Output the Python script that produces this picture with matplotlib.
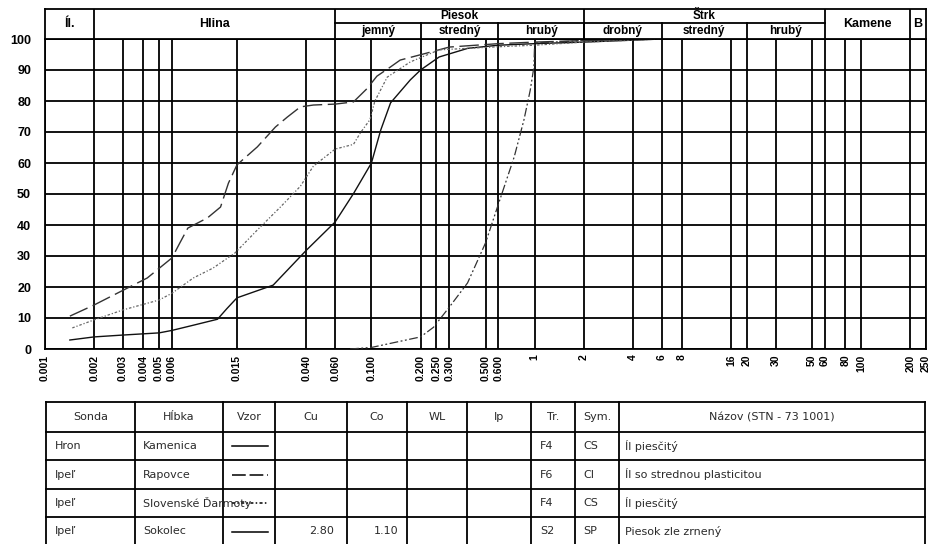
import matplotlib
matplotlib.use("Agg")
import matplotlib.pyplot as plt
from matplotlib.ticker import NullLocator

# ---------------- data ----------------
tick_values = [0.001, 0.002, 0.003, 0.004, 0.005, 0.006, 0.015, 0.040, 0.060, 0.100,
               0.200, 0.250, 0.300, 0.500, 0.600, 1, 2, 4, 6, 8, 16, 20, 30, 50, 60,
               80, 100, 200, 250]
tick_labels = ["0.001", "0.002", "0.003", "0.004", "0.005", "0.006", "0.015", "0.040",
               "0.060", "0.100", "0.200", "0.250", "0.300", "0.500", "0.600", "1", "2",
               "4", "6", "8", "16", "20", "30", "50", "60", "80", "100", "200", "250"]

# grain size (mm) / percent passing
hron_d = [0.00142, 0.002, 0.003, 0.005, 0.006, 0.008, 0.0114, 0.013, 0.015, 0.025,
          0.040, 0.060, 0.078, 0.100, 0.114, 0.131, 0.173, 0.200, 0.260, 0.390, 0.600,
          1.0, 2.0, 6.0]
hron_p = [2.9, 3.9, 4.5, 5.2, 6.0, 7.6, 9.6, 13.0, 16.5, 20.6, 31.9, 41.0, 50.3, 60.0,
          70.6, 79.4, 86.8, 90.0, 94.2, 97.0, 98.0, 98.5, 99.0, 100.0]

rapovce_d = [0.00142, 0.002, 0.0025, 0.00423, 0.006, 0.0067, 0.0075, 0.0099, 0.0119,
             0.0133, 0.015, 0.020, 0.0258, 0.0305, 0.0367, 0.0441, 0.060, 0.0776, 0.094,
             0.108, 0.131, 0.150, 0.220, 0.300, 0.600, 1.0, 2.0, 6.0]
rapovce_p = [10.6, 14.2, 16.8, 22.9, 29.4, 34.2, 39.0, 42.3, 45.8, 53.5, 59.4, 65.2, 71.6,
             74.8, 78.1, 78.7, 79.0, 79.7, 84.0, 88.0, 91.0, 93.2, 95.5, 97.4, 98.5, 99.0,
             99.5, 100.0]

darmoty_d = [0.00147, 0.002, 0.003, 0.005, 0.006, 0.0081, 0.0107, 0.0146, 0.020, 0.0277,
             0.0367, 0.0441, 0.060, 0.0776, 0.0855, 0.098, 0.105, 0.125, 0.173, 0.260,
             0.600, 1.0, 2.0, 6.0]
darmoty_p = [6.8, 9.4, 12.6, 15.8, 18.0, 22.9, 26.1, 31.0, 38.4, 45.8, 52.5, 59.0, 64.5,
             66.0, 69.7, 74.0, 80.0, 87.7, 92.6, 96.5, 97.5, 98.0, 99.0, 100.0]

sokolec_d = [0.074, 0.100, 0.200, 0.240, 0.300, 0.388, 0.500, 0.620, 0.750, 0.860, 0.940,
             0.990, 1.0, 2.0, 6.0]
sokolec_p = [0.0, 0.5, 3.9, 7.0, 13.5, 21.3, 34.2, 49.0, 62.0, 73.9, 83.5, 91.0, 98.7,
             99.5, 100.0]

# header classes
main_classes = ["Íl.", "Hlina", "Piesok", "Štrk", "Kamene", "B"]
main_bounds = [0.001, 0.002, 0.060, 2, 60, 200, 250]
sub_classes = ["jemný", "stredný", "hrubý", "drobný", "stredný", "hrubý"]
sub_bounds = [0.060, 0.200, 0.600, 2, 6, 20, 60]

# table
col_headers = ["Sonda", "Hĺbka", "Vzor", "Cu", "Co", "WL", "Ip", "Tr.", "Sym.",
               "Názov (STN - 73 1001)"]
sonda = ["Hron", "Ipeľ", "Ipeľ", "Ipeľ"]
hlbka = ["Kamenica", "Rapovce", "Slovenské Ďarmoty", "Sokolec"]
cu = ["", "", "", "2.80"]
co = ["", "", "", "1.10"]
trieda = ["F4", "F6", "F4", "S2"]
sym = ["CS", "CI", "CS", "SP"]
nazov = ["Íl piesčitý", "Íl so strednou plasticitou", "Íl piesčitý", "Piesok zle zrnený"]

# ---------------- styles ----------------
series = [(hron_d, hron_p), (rapovce_d, rapovce_p), (darmoty_d, darmoty_p),
          (sokolec_d, sokolec_p)]
line_styles = ["-", (0, (14, 4)), (0, (2, 1.5, 1, 1.5)), (0, (7, 2, 1.5, 2, 1.5, 2))]
line_colors = ["#111111", "#333333", "#666666", "#333333"]
line_widths = [1.0, 1.0, 0.9, 0.9]
vzor_styles = ["-", (0, (9, 2.5)), (0, (2, 1.5, 1, 1.5)), "-"]

W, H = 932, 544
fig = plt.figure(figsize=(W / 100, H / 100), dpi=100)
fig.patch.set_facecolor("white")


def box(x0, y0, x1, y1):
    return [x0 / W, 1 - y1 / H, (x1 - x0) / W, (y1 - y0) / H]


BOLD = dict(family="Liberation Sans", weight="bold")

# ---------------- main plot ----------------
ax = fig.add_axes(box(45, 39, 926, 349))
ax.set_xscale("log")
ax.set_xlim(main_bounds[0], main_bounds[-1])
ax.set_ylim(0, 100)
ax.set_xticks(tick_values)
ax.set_xticklabels(tick_labels, rotation=90, fontsize=7.5, **BOLD)
ax.xaxis.set_minor_locator(NullLocator())
ax.set_yticks(range(0, 101, 10))
ax.set_yticklabels([str(v) for v in range(0, 101, 10)], fontsize=9, **BOLD)
ax.tick_params(length=0, pad=4)
ax.tick_params(axis="y", pad=10)
ax.grid(True, color="black", lw=1.3)
for s in ax.spines.values():
    s.set_linewidth(1.3)

for (d, p), ls, c, lw in zip(series, line_styles, line_colors, line_widths):
    ax.plot(d, p, linestyle=ls, color=c, lw=lw, zorder=3)

# ---------------- header ----------------
hx = fig.add_axes(box(45, 9, 926, 39))
hx.set_xscale("log")
hx.set_xlim(main_bounds[0], main_bounds[-1])
hx.set_ylim(0, 2)
hx.set_xticks([])
hx.set_yticks([])
hx.xaxis.set_minor_locator(NullLocator())
for s in hx.spines.values():
    s.set_linewidth(1.3)
for b in main_bounds[1:-1]:
    hx.axvline(b, color="black", lw=1.3)
hx.plot([sub_bounds[0], sub_bounds[-1]], [1.1, 1.1], color="black", lw=1.3)
for b in sub_bounds[1:-1]:
    hx.plot([b, b], [0, 1.1], color="black", lw=1.3)
for i, name in enumerate(main_classes):
    xm = (main_bounds[i] * main_bounds[i + 1]) ** 0.5
    split = name in ("Piesok", "Štrk")
    ym = 1.55 if split else 1.0
    hx.text(xm, ym, name, ha="center", va="center", fontsize=8.5 if split else 9,
            **BOLD)
for i, name in enumerate(sub_classes):
    xm = (sub_bounds[i] * sub_bounds[i + 1]) ** 0.5
    hx.text(xm, 0.55, name, ha="center", va="center", fontsize=8.5, **BOLD)

# ---------------- table ----------------
tx = fig.add_axes([0, 0, 1, 1])
tx.set_xlim(0, W)
tx.set_ylim(H, 0)
tx.axis("off")
col_x = [46, 135, 223, 275, 347, 407, 467, 531, 575, 619, 925]
row_y = [402, 432, 460, 489, 517, 546]
for x in col_x:
    tx.plot([x, x], [row_y[0], row_y[-1]], color="black", lw=1.3)
for y in row_y:
    tx.plot([col_x[0], col_x[-1]], [y, y], color="black", lw=1.3)

TFONT = dict(family="DejaVu Sans", fontsize=8, color="#2a2a2a")
for j, h in enumerate(col_headers):
    tx.text((col_x[j] + col_x[j + 1]) / 2, (row_y[0] + row_y[1]) / 2, h,
            ha="center", va="center", **TFONT)

rows = list(zip(sonda, hlbka, cu, co, trieda, sym, nazov))
for i, (s, hb, c_u, c_o, tr, sy, nz) in enumerate(rows):
    yc = (row_y[i + 1] + row_y[i + 2]) / 2
    # Vzor sample line
    tx.plot([col_x[2] + 9, col_x[3] - 7], [yc, yc], color="black", lw=1.1,
            linestyle=vzor_styles[i], zorder=1)
    tx.text(col_x[0] + 9, yc, s, ha="left", va="center", **TFONT)
    tx.text(col_x[1] + 8, yc, hb, ha="left", va="center", zorder=3, **TFONT)
    tx.text(col_x[4] - 13, yc, c_u, ha="right", va="center", **TFONT)
    tx.text(col_x[5] - 9, yc, c_o, ha="right", va="center", **TFONT)
    tx.text(col_x[7] + 9, yc, tr, ha="left", va="center", **TFONT)
    tx.text(col_x[8] + 8, yc, sy, ha="left", va="center", **TFONT)
    tx.text(col_x[9] + 6, yc, nz, ha="left", va="center", **TFONT)

fig.savefig("out.png", dpi=100)
